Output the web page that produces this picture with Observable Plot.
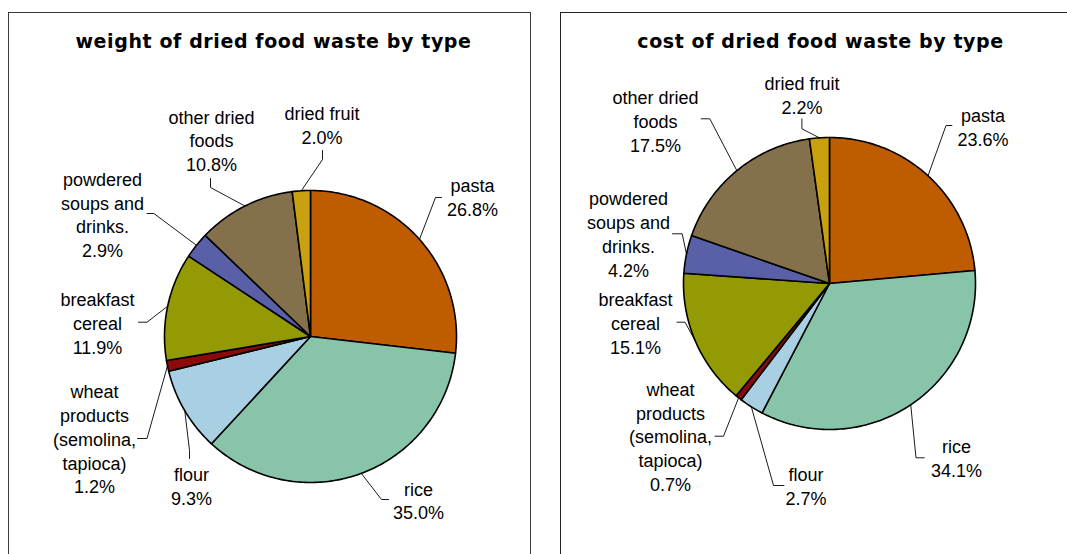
<!DOCTYPE html>
<html><head><meta charset="utf-8">
<script src="https://cdn.jsdelivr.net/npm/d3@7"></script>
<script src="https://cdn.jsdelivr.net/npm/@observablehq/plot@0.6"></script>
<style>
html,body{margin:0;padding:0;background:#fff;width:1067px;height:554px;overflow:hidden;}
#wrap{position:relative;width:1067px;height:554px;}
#chart{position:absolute;left:0;top:0;}
.box{position:absolute;box-sizing:border-box;pointer-events:none;}
</style></head><body>
<div id="wrap"><div id="chart"></div>
<div class="box" style="left:8px;top:12px;width:523px;height:700px;border:1.5px solid #3a3a3a"></div>
<div class="box" style="left:560px;top:12px;width:600px;height:700px;border:1px solid #222"></div>
</div>
<script>
// ---- data ----
const categories = ["pasta","rice","flour","wheat products (semolina, tapioca)","breakfast cereal","powdered soups and drinks.","other dried foods","dried fruit"];
const labelLines = ["pasta","rice","flour","wheat\nproducts\n(semolina,\ntapioca)","breakfast\ncereal","powdered\nsoups and\ndrinks.","other dried\nfoods","dried fruit"];
const weightShare = [26.8, 35.0, 9.3, 1.2, 11.9, 2.9, 10.8, 2.0];
const costShare   = [23.6, 34.1, 2.7, 0.7, 15.1, 4.2, 17.5, 2.2];
const titles = ["weight of dried food waste by type", "cost of dried food waste by type"];

// ---- styles / layout ----
const colors = ["#C05C00","#88C4AA","#A8D0E2","#8B0A0A","#949A04","#5A60A8","#84704A","#C8A010"];
const panels = [
  { values: weightShare, title: titles[0], cx: 310, cy: 336, r: 146, titleX: 273, titleY: 41,
    labels: [[472,196],[418,499.5],[191,485],[94,437.7],[97,321.8],[102,213.5],[211,139.2],[321.5,124]],
    elbows: [[[441,197],[435,197]],[[388,499],[381,499]],[[189,458],[189,450]],[[137,438],[146.5,438]],
             [[138,321.7],[146.5,321.7]],[[146.5,213],[153.4,213]],[[210,178],[210,187]],[[322,150],[322,159]]] },
  { values: costShare, title: titles[1], cx: 829, cy: 283, r: 146, titleX: 820, titleY: 41,
    labels: [[982.6,125.7],[956,457],[805.5,485],[670,435.3],[635,321.8],[628,232.8],[655,119.8],[801.6,93.9]],
    elbows: [[[951.4,125],[945.5,125]],[[923.8,457.3],[915.5,457.3]],[[783.4,485],[773,485]],[[714.5,435.7],[723,435.7]],
             [[676.6,321.7],[684.5,321.7]],[[672,233.3],[681.7,233.3]],[[700.7,118.3],[709.3,118.3]],[[801.4,118.3],[801.4,128.3]]] }
];

function slices(values, cx, cy, r) {
  const total = d3.sum(values);
  let acc = 0;
  return values.map((v, i) => {
    const a0 = acc / total * 2 * Math.PI; acc += v; const a1 = acc / total * 2 * Math.PI;
    const n = Math.max(2, Math.ceil((a1 - a0) / (Math.PI / 180)));
    const pts = [{x: cx, y: cy}];
    for (let k = 0; k <= n; k++) { const a = a0 + (a1 - a0) * k / n; pts.push({x: cx + r * Math.sin(a), y: cy - r * Math.cos(a)}); }
    const am = (a0 + a1) / 2;
    return {i, pts, mid: {x: cx + r * Math.sin(am), y: cy - r * Math.cos(am)}};
  });
}

const marks = [];
const labelData = [];
const titleData = [];
for (const p of panels) {
  const sl = slices(p.values, p.cx, p.cy, p.r);
  for (const s of sl) {
    marks.push(Plot.line(s.pts, {x: "x", y: "y", fill: colors[s.i], stroke: "#000", strokeWidth: 1.6, curve: "linear-closed", strokeLinejoin: "round"}));
  }
  for (const s of sl) {
    const e = p.elbows[s.i];
    const lp = [{x: e[0][0], y: e[0][1]}, {x: e[1][0], y: e[1][1]}, s.mid];
    marks.push(Plot.line(lp, {x: "x", y: "y", stroke: "#000", strokeWidth: 0.9}));
    labelData.push({x: p.labels[s.i][0], y: p.labels[s.i][1], text: labelLines[s.i] + "\n" + p.values[s.i].toFixed(1) + "%"});
  }
  titleData.push({x: p.titleX, y: p.titleY, text: p.title});
}
marks.push(Plot.text(labelData, {x: "x", y: "y", text: "text", fontSize: 18, lineHeight: 1.32, textAnchor: "middle", lineAnchor: "middle", fontFamily: "Liberation Sans, Arial, sans-serif", fill: "#000"}));
marks.push(Plot.text(titleData, {x: "x", y: "y", text: "text", fontSize: 19, fontWeight: "bold", textAnchor: "middle", lineAnchor: "middle", fontFamily: "DejaVu Sans, Verdana, sans-serif", fill: "#000"}));

const svg = Plot.plot({
  width: 1067, height: 554, margin: 0,
  x: {type: "linear", domain: [0, 1067], range: [0, 1067], axis: null},
  y: {type: "linear", domain: [0, 554], range: [0, 554], axis: null},
  style: {background: "transparent", overflow: "visible"},
  marks
});
document.getElementById("chart").appendChild(svg);
d3.select(svg).selectAll('g[font-weight="bold"] text, g[font-weight="bold"] tspan').style("letter-spacing", "0.6px");
</script>
</body></html>
